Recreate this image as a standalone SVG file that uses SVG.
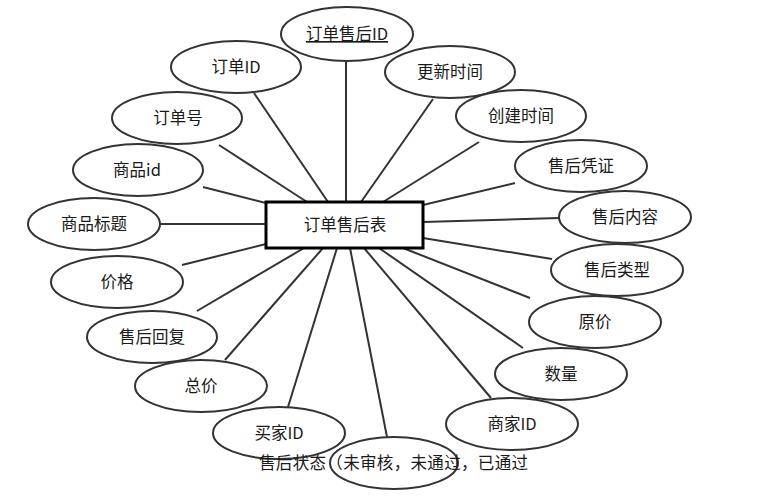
<svg xmlns="http://www.w3.org/2000/svg" width="762" height="500" viewBox="0 0 762 500">
<style>
.e{fill:#fff;stroke:#333;stroke-width:2}
.t{font-family:"Noto Sans CJK SC","Liberation Sans",sans-serif;font-size:16.5px;fill:#1a1a1a;text-anchor:middle}
.c line{stroke:#333;stroke-width:2}
</style>
<rect width="762" height="500" fill="#fff"/>
<g id="connectors" class="c">
<line x1="346" y1="61" x2="346" y2="202"/>
<line x1="254" y1="93" x2="328" y2="202"/>
<line x1="433" y1="99" x2="361" y2="202"/>
<line x1="479" y1="142" x2="383" y2="202"/>
<line x1="219" y1="145" x2="307" y2="202"/>
<line x1="203" y1="187" x2="266" y2="203"/>
<line x1="160" y1="224" x2="266" y2="224"/>
<line x1="182" y1="265" x2="266" y2="244"/>
<line x1="197" y1="311" x2="304" y2="248"/>
<line x1="225" y1="360" x2="323" y2="248"/>
<line x1="288" y1="407" x2="337" y2="248"/>
<line x1="387" y1="437" x2="350" y2="248"/>
<line x1="491" y1="398" x2="364" y2="248"/>
<line x1="523" y1="348" x2="379" y2="248"/>
<line x1="530" y1="298" x2="403" y2="248"/>
<line x1="552" y1="259" x2="423" y2="238"/>
<line x1="559" y1="218" x2="423" y2="222"/>
<line x1="515" y1="183" x2="423" y2="205"/>
</g>
<g id="main"><rect x="266" y="202" width="157" height="46" fill="#fff" stroke="#000" stroke-width="3"/><text class="t" x="345" y="231">订单售后表</text></g>
<g id="a1"><ellipse class="e" cx="347" cy="34" rx="66" ry="27"/><text class="t" x="347" y="40" text-decoration="underline">订单售后ID</text></g>
<g id="a2"><ellipse class="e" cx="236" cy="67" rx="65" ry="26"/><text class="t" x="236" y="73">订单ID</text></g>
<g id="a3"><ellipse class="e" cx="450" cy="72" rx="65" ry="26"/><text class="t" x="450" y="78">更新时间</text></g>
<g id="a4"><ellipse class="e" cx="521" cy="116" rx="65" ry="26"/><text class="t" x="521" y="122">创建时间</text></g>
<g id="a5"><ellipse class="e" cx="177" cy="118" rx="65" ry="26"/><text class="t" x="178" y="124">订单号</text></g>
<g id="a6"><ellipse class="e" cx="138" cy="170" rx="65" ry="26"/><text class="t" x="137" y="176">商品id</text></g>
<g id="a7"><ellipse class="e" cx="94" cy="224" rx="66" ry="26"/><text class="t" x="94" y="230">商品标题</text></g>
<g id="a8"><ellipse class="e" cx="117" cy="282" rx="66" ry="26"/><text class="t" x="117" y="288">价格</text></g>
<g id="a9"><ellipse class="e" cx="152" cy="337" rx="65" ry="26"/><text class="t" x="152" y="343">售后回复</text></g>
<g id="a10"><ellipse class="e" cx="201" cy="386" rx="66" ry="26"/><text class="t" x="201" y="392">总价</text></g>
<g id="a11"><ellipse class="e" cx="279" cy="433" rx="66" ry="26"/><text class="t" x="279" y="439">买家ID</text></g>
<g id="a12"><ellipse class="e" cx="394" cy="463" rx="64" ry="26"/></g>
<g id="a13"><ellipse class="e" cx="512" cy="424" rx="66" ry="26"/><text class="t" x="512" y="430">商家ID</text></g>
<g id="a14"><ellipse class="e" cx="561" cy="374" rx="66" ry="26"/><text class="t" x="561" y="380">数量</text></g>
<g id="a15"><ellipse class="e" cx="595" cy="322" rx="66" ry="26"/><text class="t" x="595" y="328">原价</text></g>
<g id="a16"><ellipse class="e" cx="617" cy="270" rx="66" ry="26"/><text class="t" x="617" y="276">售后类型</text></g>
<g id="a17"><ellipse class="e" cx="625" cy="217" rx="66" ry="26"/><text class="t" x="625" y="223">售后内容</text></g>
<g id="a18"><ellipse class="e" cx="581" cy="166" rx="66" ry="26"/><text class="t" x="581" y="172">售后凭证</text></g>
<text class="t" x="259" y="469" textLength="269" style="text-anchor:start">售后状态（未审核，未通过，已通过</text>
</svg>
